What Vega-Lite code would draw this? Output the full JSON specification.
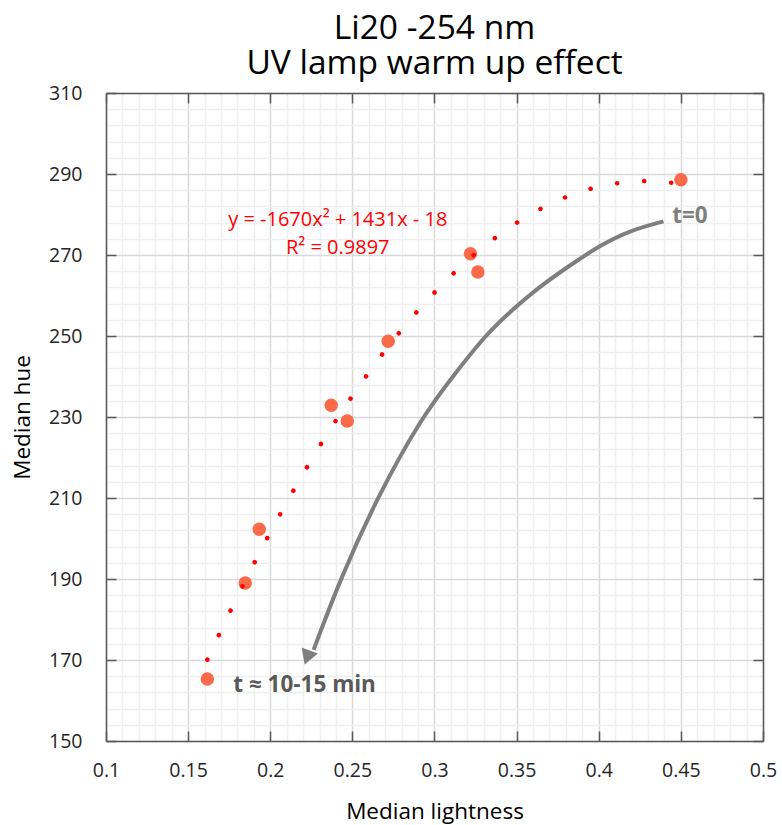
{
  "$schema": "https://vega.github.io/schema/vega-lite/v6.json",
  "autosize": "none",
  "padding": {"left": 106, "top": 93, "right": 19, "bottom": 84},
  "width": 657,
  "height": 648,
  "background": "white",
  "config": {
    "font": "Open Sans",
    "view": {"stroke": null},
    "axis": {"labelFont": "Open Sans", "titleFont": "Open Sans"}
  },
  "title": {
    "text": ["Li20 -254 nm", "UV lamp warm up effect"],
    "font": "Open Sans",
    "fontSize": 33.5,
    "fontWeight": "normal",
    "color": "#000000",
    "lineHeight": 35,
    "anchor": "middle",
    "offset": 2
  },
  "datasets": {
    "pts": [
      {"L": 0.1617, "H": 165.3},
      {"L": 0.1848, "H": 189.0},
      {"L": 0.1933, "H": 202.3},
      {"L": 0.2371, "H": 232.9},
      {"L": 0.2469, "H": 229.0},
      {"L": 0.2718, "H": 248.7},
      {"L": 0.3219, "H": 270.3},
      {"L": 0.3264, "H": 265.8},
      {"L": 0.45, "H": 288.6}
    ],
    "arrow": [
      {"L": 0.4394, "H": 278.3},
      {"L": 0.4191, "H": 276.1},
      {"L": 0.4009, "H": 272.4},
      {"L": 0.3826, "H": 267.5},
      {"L": 0.3623, "H": 261.7},
      {"L": 0.3461, "H": 256.0},
      {"L": 0.3319, "H": 250.6},
      {"L": 0.3126, "H": 240.8},
      {"L": 0.2923, "H": 230.0},
      {"L": 0.2653, "H": 210.3},
      {"L": 0.2426, "H": 190.0},
      {"L": 0.2264, "H": 172.5}
    ],
    "head": [{"L": 0.2225, "H": 170.6}],
    "labels": [
      {"L": 0.4447, "H": 279.7, "t": "t=0", "kind": "t0"},
      {"L": 0.1775, "H": 163.8, "t": "t ≈ 10-15 min", "kind": "tend"}
    ],
    "eq": [
      {"L": 0.2411, "H": 278.6, "t": "y = -1670x² + 1431x - 18"},
      {"L": 0.2411, "H": 271.7, "t": "R² = 0.9897"}
    ]
  },
  "resolve": {"axis": {"x": "independent", "y": "independent"}},
  "layer": [
    {
      "data": {"name": "pts"},
      "mark": {"type": "point", "filled": true, "shape": "circle", "size": 180, "color": "#FA6A48", "opacity": 1},
      "encoding": {
        "x": {
          "field": "L", "type": "quantitative",
          "scale": {"domain": [0.1, 0.5], "nice": false, "zero": false},
          "axis": {
            "orient": "bottom",
            "title": "Median lightness",
            "titleFontSize": 22.5,
            "titleFontWeight": "normal",
            "titleColor": "#000000",
            "titlePadding": 21,
            "values": [0.1, 0.11, 0.12, 0.13, 0.14, 0.15, 0.16, 0.17, 0.18, 0.19, 0.2, 0.21, 0.22, 0.23, 0.24, 0.25, 0.26, 0.27, 0.28, 0.29, 0.3, 0.31, 0.32, 0.33, 0.34, 0.35, 0.36, 0.37, 0.38, 0.39, 0.4, 0.41, 0.42, 0.43, 0.44, 0.45, 0.46, 0.47, 0.48, 0.49, 0.5],
            "labelExpr": "abs(datum.value*20 - round(datum.value*20)) < 0.001 ? format(datum.value, '.2~f') : ''",
            "labelFontSize": 19.5,
            "labelColor": "#262626",
            "labelOverlap": false,
            "labelFlush": false,
            "labelBound": false,
            "labelPadding": 30,
            "tickSize": -10,
            "tickWidth": 1.5,
            "tickColor": "#595959",
            "tickOpacity": {"condition": {"test": "abs(datum.value*20 - round(datum.value*20)) < 0.001", "value": 1}, "value": 0},
            "domainColor": "#595959",
            "domainWidth": 1.5,
            "grid": true,
            "gridColor": {"condition": {"test": "abs(datum.value*20 - round(datum.value*20)) < 0.001", "value": "#D9D9D9"}, "value": "#EFEFEF"},
            "gridWidth": 1.5
          }
        },
        "y": {
          "field": "H", "type": "quantitative",
          "scale": {"domain": [150, 310], "nice": false, "zero": false},
          "axis": {
            "orient": "left",
            "title": "Median hue",
            "titleFontSize": 22.5,
            "titleFontWeight": "normal",
            "titleColor": "#000000",
            "titlePadding": 14,
            "values": [150, 154, 158, 162, 166, 170, 174, 178, 182, 186, 190, 194, 198, 202, 206, 210, 214, 218, 222, 226, 230, 234, 238, 242, 246, 250, 254, 258, 262, 266, 270, 274, 278, 282, 286, 290, 294, 298, 302, 306, 310],
            "labelExpr": "datum.value % 20 == 10 ? datum.label : ''",
            "labelFontSize": 19.5,
            "labelColor": "#262626",
            "labelOverlap": false,
            "labelFlush": false,
            "labelBound": false,
            "labelPadding": 34,
            "tickSize": -10,
            "tickWidth": 1.5,
            "tickColor": "#595959",
            "tickOpacity": {"condition": {"test": "datum.value % 20 == 10", "value": 1}, "value": 0},
            "domainColor": "#595959",
            "domainWidth": 1.5,
            "grid": true,
            "gridColor": {"condition": {"test": "datum.value % 20 == 10", "value": "#D9D9D9"}, "value": "#EFEFEF"},
            "gridWidth": 1.5
          }
        }
      }
    },
    {
      "data": {"name": "arrow"},
      "mark": {"type": "line", "color": "#7F7F7F", "strokeWidth": 4, "interpolate": "basis"},
      "encoding": {
        "x": {
          "field": "L", "type": "quantitative",
          "scale": {"domain": [0.1, 0.5], "nice": false, "zero": false},
          "axis": {
            "orient": "top", "title": null, "labels": false, "grid": false,
            "values": [0.1, 0.15, 0.2, 0.25, 0.3, 0.35, 0.4, 0.45, 0.5],
            "tickSize": -10, "tickWidth": 1.5, "tickColor": "#595959",
            "domainColor": "#595959", "domainWidth": 1.5
          }
        },
        "y": {
          "field": "H", "type": "quantitative",
          "scale": {"domain": [150, 310], "nice": false, "zero": false},
          "axis": {
            "orient": "right", "title": null, "labels": false, "grid": false,
            "values": [150, 170, 190, 210, 230, 250, 270, 290, 310],
            "tickSize": -10, "tickWidth": 1.5, "tickColor": "#595959",
            "domainColor": "#595959", "domainWidth": 1.5
          }
        }
      }
    },
    {
      "data": {"name": "head"},
      "mark": {"type": "point", "shape": "triangle-down", "filled": true, "size": 300, "angle": 20, "color": "#7F7F7F", "opacity": 1},
      "encoding": {
        "x": {"field": "L", "type": "quantitative", "axis": null},
        "y": {"field": "H", "type": "quantitative", "axis": null}
      }
    },
    {
      "data": {"name": "pts"},
      "transform": [
        {"regression": "H", "on": "L", "method": "poly", "order": 2, "extent": [0.1617, 0.45]}
      ],
      "mark": {"type": "line", "color": "#FF0000", "strokeWidth": 4.5, "strokeCap": "round", "strokeDash": [0.1, 27]},
      "encoding": {
        "x": {"field": "L", "type": "quantitative", "axis": null},
        "y": {"field": "H", "type": "quantitative", "axis": null}
      }
    },
    {
      "data": {"name": "labels"},
      "mark": {"type": "text", "align": "left", "baseline": "middle", "fontWeight": "bold", "fontSize": 22.5, "font": "Open Sans"},
      "encoding": {
        "x": {"field": "L", "type": "quantitative", "axis": null},
        "y": {"field": "H", "type": "quantitative", "axis": null},
        "text": {"field": "t"},
        "color": {"field": "kind", "type": "nominal", "scale": {"domain": ["t0", "tend"], "range": ["#7F7F7F", "#595959"]}, "legend": null}
      }
    },
    {
      "data": {"name": "eq"},
      "mark": {"type": "text", "align": "center", "baseline": "middle", "fontSize": 20, "font": "Open Sans", "color": "#FF0000"},
      "encoding": {
        "x": {"field": "L", "type": "quantitative", "axis": null},
        "y": {"field": "H", "type": "quantitative", "axis": null},
        "text": {"field": "t"}
      }
    }
  ]
}
